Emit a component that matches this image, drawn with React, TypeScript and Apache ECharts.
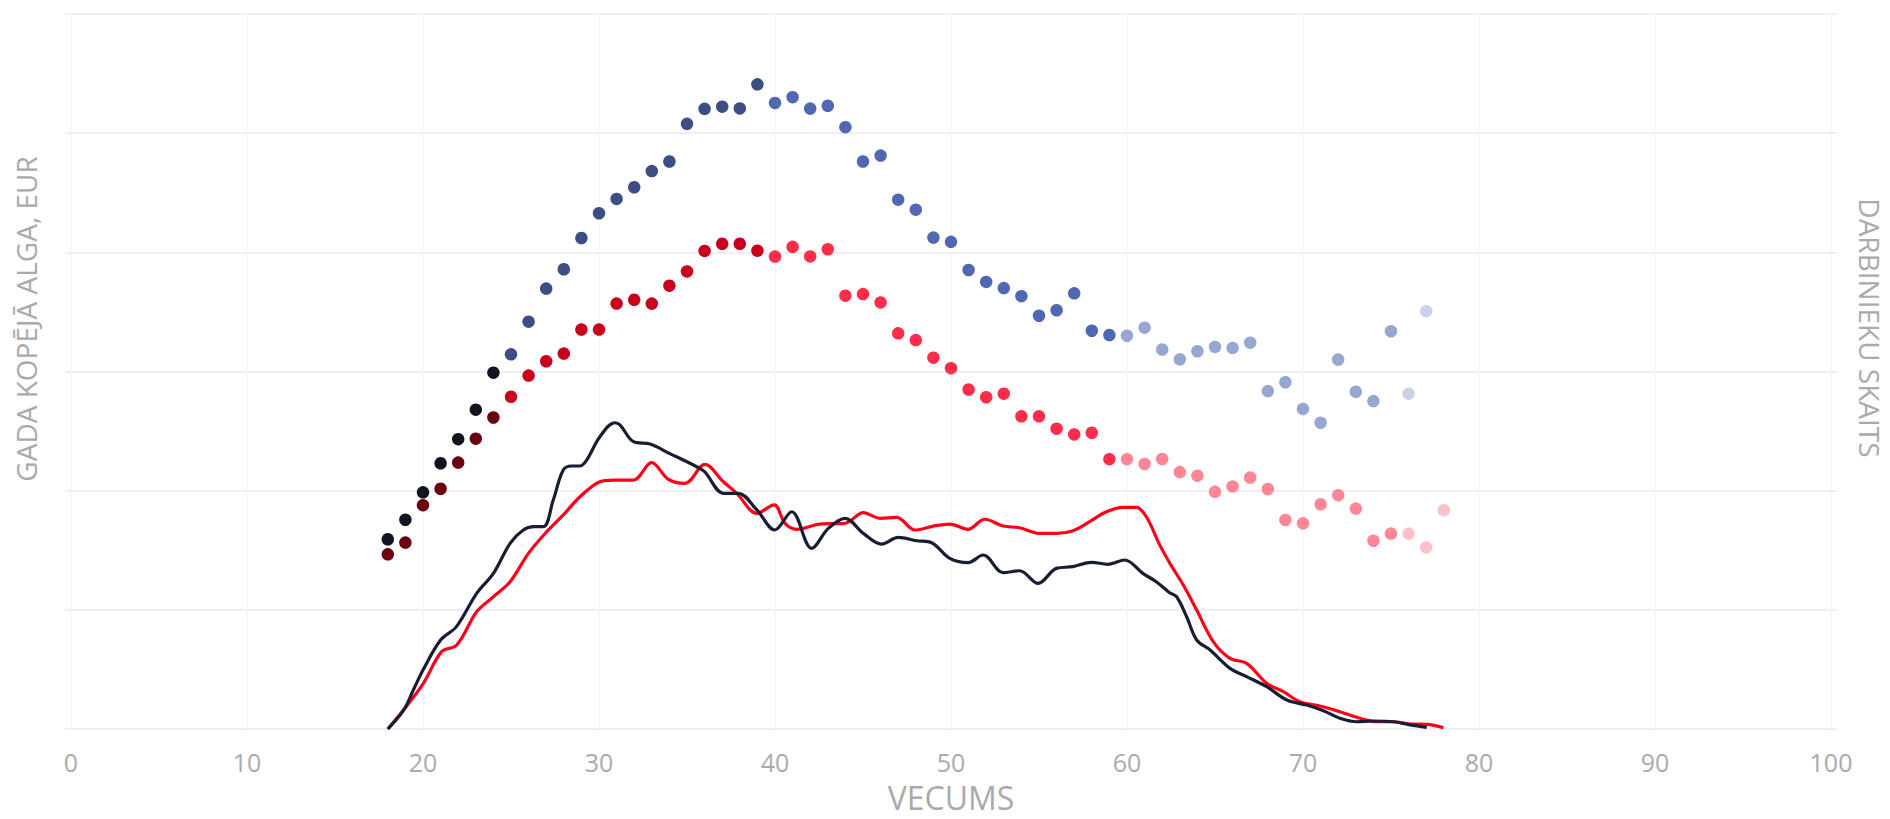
import React, { useEffect, useRef } from "react";
import * as echarts from "echarts";

// Ages for scatter points
const maleAges = [18, 19, 20, 21, 22, 23, 24, 25, 26, 27, 28, 29, 30, 31, 32, 33, 34, 35, 36, 37, 38, 39, 40, 41, 42, 43, 44, 45, 46, 47, 48, 49, 50, 51, 52, 53, 54, 55, 56, 57, 58, 59, 60, 61, 62, 63, 64, 65, 66, 67, 68, 69, 70, 71, 72, 73, 74, 75, 76, 77];
const maleSalary = [7960, 8780, 9930, 11150, 12160, 13400, 14950, 15720, 17090, 18480, 19290, 20600, 21640, 22240, 22730, 23410, 23810, 25390, 26020, 26110, 26040, 27050, 26270, 26510, 26030, 26150, 25250, 23810, 24060, 22210, 21790, 20620, 20440, 19260, 18760, 18500, 18160, 17340, 17570, 18280, 16710, 16530, 16500, 16840, 15920, 15510, 15850, 16030, 15990, 16210, 14180, 14550, 13430, 12850, 15500, 14150, 13760, 16690, 14070, 17530];

const femaleAges = [18, 19, 20, 21, 22, 23, 24, 25, 26, 27, 28, 29, 30, 31, 32, 33, 34, 35, 36, 37, 38, 39, 40, 41, 42, 43, 44, 45, 46, 47, 48, 49, 50, 51, 52, 53, 54, 55, 56, 57, 58, 59, 60, 61, 62, 63, 64, 65, 66, 67, 68, 69, 70, 71, 72, 73, 74, 75, 76, 77, 78];
const femaleSalary = [7330, 7820, 9390, 10080, 11180, 12180, 13070, 13940, 14830, 15430, 15750, 16760, 16760, 17850, 18010, 17850, 18600, 19200, 20060, 20360, 20360, 20070, 19820, 20230, 19830, 20130, 18180, 18250, 17900, 16600, 16320, 15580, 15140, 14240, 13920, 14070, 13120, 13120, 12600, 12360, 12430, 11320, 11320, 11120, 11330, 10780, 10630, 9950, 10180, 10550, 10070, 8770, 8630, 9430, 9810, 9250, 7900, 8200, 8200, 7620, 9180];

// Employee counts (right axis)
const maleCountAges = [18, 18.9, 19.45, 20, 21, 21.9, 23.05, 24, 24.95, 25.7, 26.3, 26.85, 27.4, 27.97, 28.45, 28.9, 29.3, 30.05, 30.9, 31.2, 31.96, 32.9, 34, 35.55, 36, 37.07, 37.92, 38.97, 39.99, 40.95, 42.08, 43.03, 43.98, 45.02, 46.06, 47, 48.05, 48.9, 49.93, 50.97, 51.83, 52.96, 53.9, 54.95, 55.99, 56.93, 57.98, 58.92, 59.87, 60.9, 61.66, 62.42, 62.82, 63.39, 63.96, 64.72, 65.85, 66.8, 67.94, 69.08, 70.21, 71.16, 72.1, 73.05, 74, 75.14, 76.08, 77.03];
const maleCounts = [0, 159, 327, 495, 747, 859, 1138, 1306, 1558, 1670, 1698, 1698, 1921, 2173, 2207, 2207, 2257, 2453, 2570, 2551, 2411, 2391, 2313, 2201, 2159, 1978, 1978, 1838, 1670, 1823, 1516, 1684, 1768, 1642, 1552, 1608, 1580, 1563, 1432, 1396, 1460, 1312, 1328, 1222, 1348, 1362, 1399, 1382, 1418, 1306, 1236, 1144, 1110, 942, 747, 663, 509, 439, 355, 243, 201, 154, 90, 61, 67, 61, 34, 14];

const femaleCountAges = [18, 18.97, 20.02, 21.06, 21.92, 23.05, 24, 24.95, 25.99, 27.03, 27.97, 28.92, 30.05, 30.81, 31.95, 32.99, 33.94, 34.89, 36.02, 37.07, 37.83, 38.97, 39.95, 40.57, 41.23, 42.56, 43.98, 45.02, 45.97, 46.91, 47.95, 48.99, 49.93, 50.97, 51.92, 52.96, 53.9, 55.04, 55.99, 56.93, 57.88, 58.83, 59.77, 60.53, 61.1, 61.86, 62.44, 63.2, 63.96, 64.9, 65.85, 66.8, 67.94, 68.89, 69.83, 70.97, 72.1, 73.24, 74.19, 75.14, 76.08, 77.03, 77.98];
const femaleCounts = [0, 174, 383, 649, 705, 984, 1110, 1236, 1474, 1656, 1796, 1949, 2075, 2089, 2089, 2235, 2095, 2062, 2221, 2075, 1978, 1810, 1880, 1726, 1676, 1720, 1726, 1815, 1768, 1776, 1670, 1703, 1720, 1676, 1760, 1703, 1689, 1642, 1642, 1664, 1740, 1823, 1860, 1860, 1781, 1545, 1390, 1208, 998, 733, 593, 551, 383, 313, 229, 193, 145, 90, 61, 61, 42, 39, 11];

// Colour bands by age: <25, 25-39, 40-59, 60-75, 76+
const maleBandColors = ["#10151f", "#3b4f85", "#5068b1", "#96a7d2", "#c9d2e9"];
const femaleBandColors = ["#6a0010", "#c9001d", "#ff2c4a", "#ff8795", "#ffc1c9"];

const AXIS_GRAY = "#aaaaaa";

function bandIndex(age: number): number {
  if (age < 25) return 0;
  if (age < 40) return 1;
  if (age < 60) return 2;
  if (age < 76) return 3;
  return 4;
}

export default function App() {
  const ref = useRef<HTMLDivElement>(null);

  useEffect(() => {
    if (!ref.current) return;
    const chart = echarts.init(ref.current, undefined, { renderer: "svg" });

    const maleData = maleAges.map((a, i) => ({
      value: [a, maleSalary[i]],
      itemStyle: { color: maleBandColors[bandIndex(a)], opacity: 1 },
    }));
    const femaleData = femaleAges.map((a, i) => ({
      value: [a, femaleSalary[i]],
      itemStyle: { color: femaleBandColors[bandIndex(a)], opacity: 1 },
    }));
    const maleLine = maleCountAges.map((a, i) => [a, maleCounts[i]]);
    const femaleLine = femaleCountAges.map((a, i) => [a, femaleCounts[i]]);

    chart.setOption({
      animation: false,
      backgroundColor: "#ffffff",
      textStyle: { fontFamily: "Open Sans" },
      grid: { left: 71, right: 59, top: 14, bottom: 90, outerBoundsMode: "none" },
      xAxis: {
        type: "value",
        min: 0,
        max: 100,
        interval: 10,
        axisLine: { show: false },
        axisTick: { show: false },
        axisLabel: { color: AXIS_GRAY, fontSize: 25, margin: 20, fontFamily: "Open Sans" },
        splitLine: { show: true, lineStyle: { color: "#f6f6f6", width: 1.5 } },
      },
      yAxis: [
        {
          type: "value",
          min: 0,
          max: 30000,
          interval: 5000,
          axisLine: { show: false },
          axisTick: { show: true, length: 6, lineStyle: { color: "#efefef", width: 2 } },
          axisLabel: { show: false },
          splitLine: { show: true, lineStyle: { color: "#efefef", width: 2 } },
        },
        {
          type: "value",
          min: 0,
          max: 6000,
          interval: 1000,
          position: "right",
          axisLine: { show: false },
          axisTick: { show: true, length: 6, lineStyle: { color: "#efefef", width: 2 } },
          axisLabel: { show: false },
          splitLine: { show: false },
        },
      ],
      series: [
        {
          type: "line",
          name: "female count",
          yAxisIndex: 1,
          data: femaleLine,
          smooth: 0.35,
          showSymbol: false,
          lineStyle: { color: "#ff0018", width: 3.2 },
          z: 2,
        },
        {
          type: "line",
          name: "male count",
          yAxisIndex: 1,
          data: maleLine,
          smooth: 0.35,
          showSymbol: false,
          lineStyle: { color: "#171d33", width: 3.2 },
          z: 3,
        },
        {
          type: "scatter",
          name: "male salary",
          yAxisIndex: 0,
          data: maleData,
          symbolSize: 12.5,
          itemStyle: { opacity: 1 },
          z: 4,
        },
        {
          type: "scatter",
          name: "female salary",
          yAxisIndex: 0,
          data: femaleData,
          symbolSize: 12.5,
          itemStyle: { opacity: 1 },
          z: 4,
        },
      ],
      graphic: [
        {
          type: "text",
          x: 26,
          y: 319,
          rotation: Math.PI / 2,
          style: {
            text: "GADA KOPĒJĀ ALGA, EUR",
            fill: AXIS_GRAY,
            font: "28px 'Open Sans'",
            align: "center",
            verticalAlign: "middle",
          },
        },
        {
          type: "text",
          x: 1870,
          y: 328,
          rotation: -Math.PI / 2,
          style: {
            text: "DARBINIEKU SKAITS",
            fill: AXIS_GRAY,
            font: "28px 'Open Sans'",
            align: "center",
            verticalAlign: "middle",
          },
        },
        {
          type: "text",
          x: 951,
          y: 797,
          style: {
            text: "VECUMS",
            fill: AXIS_GRAY,
            font: "32px 'Open Sans'",
            align: "center",
            verticalAlign: "middle",
          },
        },
      ],
    });

    return () => chart.dispose();
  }, []);

  return (
    <div
      ref={ref}
      style={{ position: "fixed", left: 0, top: 0, width: 1890, height: 819 }}
    />
  );
}
